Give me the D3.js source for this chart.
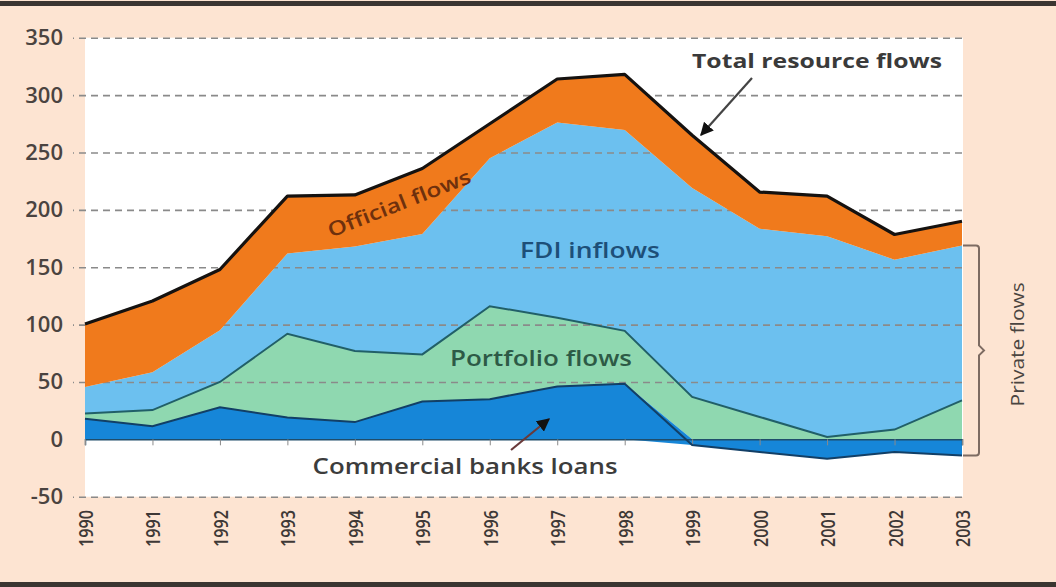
<!DOCTYPE html>
<html>
<head>
<meta charset="utf-8">
<script src="https://cdn.jsdelivr.net/npm/d3@7"></script>
<style>
  html, body { margin: 0; padding: 0; background: #ffffff; }
  svg { display: block; }
  text { font-family: "Open Sans", "DejaVu Sans", sans-serif; }
</style>
</head>
<body>
<svg id="chart" width="1056" height="587"></svg>
<script>
// Net resource flows, US$ billions
const years      = [1990, 1991, 1992, 1993, 1994, 1995, 1996, 1997, 1998, 1999, 2000, 2001, 2002, 2003];
const banks      = [18, 11.5, 28, 19, 15, 33, 35, 46, 48.5, -5, -11, -17, -11, -14];
const portfolio  = [4.5, 14, 22, 73, 62, 41, 81, 60, 46, 37, 19.5, 2, 8.5, 34];
const fdi        = [23, 33, 45, 70, 91, 105, 129, 170, 175, 182, 164, 175, 148, 135];
const official   = [55, 62, 53, 50, 45, 57, 30, 38, 48.5, 46, 32, 35, 22, 21];

const yTickValues = [-50, 0, 50, 100, 150, 200, 250, 300, 350];
const gridValues  = [-50, 50, 100, 150, 200, 250, 300, 350];

const W = 1056, H = 587;
const plot = { left: 85, right: 962, top: 37.7, bottom: 496.7 };

const svg = d3.select("#chart");

// page background and frame bars
svg.append("rect").attr("x", 0).attr("y", 0).attr("width", W).attr("height", H).attr("fill", "#fde4d2");
svg.append("rect").attr("x", 0).attr("y", 1).attr("width", W).attr("height", 5).attr("fill", "#3b3531");
svg.append("rect").attr("x", 0).attr("y", 582).attr("width", W).attr("height", 5).attr("fill", "#3b3531");
svg.append("rect")
  .attr("x", plot.left).attr("y", plot.top)
  .attr("width", plot.right - plot.left + 1).attr("height", plot.bottom - plot.top)
  .attr("fill", "#ffffff");

const x = d3.scaleLinear().domain([1990, 2003]).range([plot.left, plot.right]);
const y = d3.scaleLinear().domain([-50, 350]).range([plot.bottom, plot.top]);

const rows = years.map((yr, i) => ({
  year: yr, banks: banks[i], portfolio: portfolio[i], fdi: fdi[i], official: official[i]
}));

const keys = ["banks", "portfolio", "fdi", "official"];
const stacked = d3.stack().keys(keys).offset(d3.stackOffsetDiverging)(rows);
const colors = { banks: "#1686d8", portfolio: "#8fd8b0", fdi: "#6cc0ef", official: "#f07a1c" };

const area = d3.area()
  .x(d => x(d.data.year))
  .y0(d => y(d[0]))
  .y1(d => y(d[1]));

// private flow layers
const layers = svg.append("g");
stacked.filter(s => s.key !== "official").slice().reverse().forEach(s => {
  layers.append("path").attr("d", area(s)).attr("fill", colors[s.key]);
});

// dashed gridlines
const grid = svg.append("g")
  .attr("transform", `translate(${plot.right},0)`)
  .call(d3.axisLeft(y).tickValues(gridValues).tickSize(plot.right - 73).tickFormat(""));
grid.select(".domain").remove();
grid.selectAll(".tick line")
  .attr("stroke", "#8a8a8a").attr("stroke-width", 1.6).attr("stroke-dasharray", "7,5");

// official flows on top
const off = stacked.find(s => s.key === "official");
svg.append("path").attr("d", area(off)).attr("fill", colors.official);

// zero line and year ticks
const xTicks = svg.append("g")
  .attr("transform", `translate(0,${y(0)})`)
  .call(d3.axisBottom(x).tickValues(years).tickSize(6).tickFormat(""));
xTicks.select(".domain").attr("stroke", "#1f4d6b").attr("stroke-width", 1.5);
xTicks.selectAll(".tick line").attr("stroke", "#8a8a8a").attr("stroke-width", 1);

// outlines
const line = d3.line().x(d => x(d[0])).y(d => y(d[1]));
const por = stacked.find(s => s.key === "portfolio");
svg.append("path")
  .attr("d", line(por.map(d => [d.data.year, d[1]])))
  .attr("fill", "none").attr("stroke", "#215f68").attr("stroke-width", 2);
svg.append("path")
  .attr("d", line(years.map((yr, i) => [yr, banks[i]])))
  .attr("fill", "none").attr("stroke", "#123f66").attr("stroke-width", 2);
svg.append("path")
  .attr("d", line(off.map(d => [d.data.year, d[1]])))
  .attr("fill", "none").attr("stroke", "#151210").attr("stroke-width", 3.2).attr("stroke-linejoin", "round");

// y axis labels
const yAxis = svg.append("g")
  .attr("transform", "translate(63,0)")
  .call(d3.axisLeft(y).tickValues(yTickValues).tickSize(0).tickPadding(0).tickFormat(d => String(d)));
yAxis.select(".domain").remove();
yAxis.selectAll("text")
  .attr("font-size", 22).attr("font-weight", 600).attr("fill", "#4a4340");

// x axis labels, rotated
const xAxis = svg.append("g")
  .attr("transform", "translate(0,510)")
  .call(d3.axisBottom(x).tickValues(years).tickSize(0).tickFormat(d3.format("d")));
xAxis.select(".domain").remove();
xAxis.selectAll("text")
  .attr("font-size", 20).attr("font-weight", 600).attr("fill", "#3e3836")
  .attr("text-anchor", "end")
  .attr("dominant-baseline", "central")
  .attr("textLength", 37).attr("lengthAdjust", "spacingAndGlyphs")
  .attr("y", 0).attr("dy", null)
  .attr("transform", "rotate(-90)");

// arrowhead marker
const defs = svg.append("defs");
defs.append("marker")
  .attr("id", "head").attr("viewBox", "0 0 10 10")
  .attr("refX", 9).attr("refY", 5)
  .attr("markerWidth", 6).attr("markerHeight", 6)
  .attr("markerUnits", "strokeWidth")
  .attr("orient", "auto")
  .append("path").attr("d", "M0,0 L10,5 L0,10 Z").attr("fill", "#111");

// annotations
svg.append("text")
  .attr("x", 817).attr("y", 68).attr("text-anchor", "middle")
  .attr("font-size", 20).attr("font-weight", 700).attr("fill", "#3a3a3a")
  .attr("textLength", 250).attr("lengthAdjust", "spacingAndGlyphs")
  .text("Total resource flows");
svg.append("line")
  .attr("x1", 752).attr("y1", 78).attr("x2", 701).attr("y2", 135)
  .attr("stroke", "#444").attr("stroke-width", 2.2).attr("marker-end", "url(#head)");

svg.append("text")
  .attr("transform", "translate(399,203) rotate(-21.5)")
  .attr("text-anchor", "middle").attr("dominant-baseline", "central")
  .attr("font-size", 20).attr("font-weight", 600).attr("fill", "#6e300d")
  .attr("textLength", 152).attr("lengthAdjust", "spacingAndGlyphs")
  .text("Official flows");

svg.append("text")
  .attr("x", 590).attr("y", 250).attr("text-anchor", "middle").attr("dominant-baseline", "central")
  .attr("font-size", 21).attr("font-weight", 600).attr("fill", "#1d4f78")
  .attr("textLength", 140).attr("lengthAdjust", "spacingAndGlyphs")
  .text("FDI inflows");

svg.append("text")
  .attr("x", 541).attr("y", 358).attr("text-anchor", "middle").attr("dominant-baseline", "central")
  .attr("font-size", 21).attr("font-weight", 600).attr("fill", "#2d5a46")
  .attr("textLength", 182).attr("lengthAdjust", "spacingAndGlyphs")
  .text("Portfolio flows");

svg.append("text")
  .attr("x", 465).attr("y", 466).attr("text-anchor", "middle").attr("dominant-baseline", "central")
  .attr("font-size", 21).attr("font-weight", 600).attr("fill", "#3c3c3c")
  .attr("textLength", 305).attr("lengthAdjust", "spacingAndGlyphs")
  .text("Commercial banks loans");
svg.append("line")
  .attr("x1", 511).attr("y1", 450).attr("x2", 549).attr("y2", 419)
  .attr("stroke", "#6a3a3a").attr("stroke-width", 2.2).attr("marker-end", "url(#head)");

// private flows brace
const yTop = y(fdi[13] + portfolio[13]);
const yBot = y(banks[13]);
const yMid = (yTop + yBot) / 2;
const bx0 = 963, bx1 = 979;
svg.append("path")
  .attr("d", `M${bx0},${yTop} L${bx1 - 3},${yTop} Q${bx1},${yTop} ${bx1},${yTop + 3}
              L${bx1},${yMid - 5} L${bx1 + 5},${yMid} L${bx1},${yMid + 5}
              L${bx1},${yBot - 3} Q${bx1},${yBot} ${bx1 - 3},${yBot} L${bx0},${yBot}`)
  .attr("fill", "none").attr("stroke", "#7d6b62").attr("stroke-width", 2);
svg.append("text")
  .attr("transform", `translate(1017,${yMid - 6}) rotate(-90)`)
  .attr("text-anchor", "middle").attr("dominant-baseline", "central")
  .attr("font-size", 19).attr("fill", "#4a4440")
  .attr("textLength", 124).attr("lengthAdjust", "spacingAndGlyphs")
  .text("Private flows");
</script>
</body>
</html>
